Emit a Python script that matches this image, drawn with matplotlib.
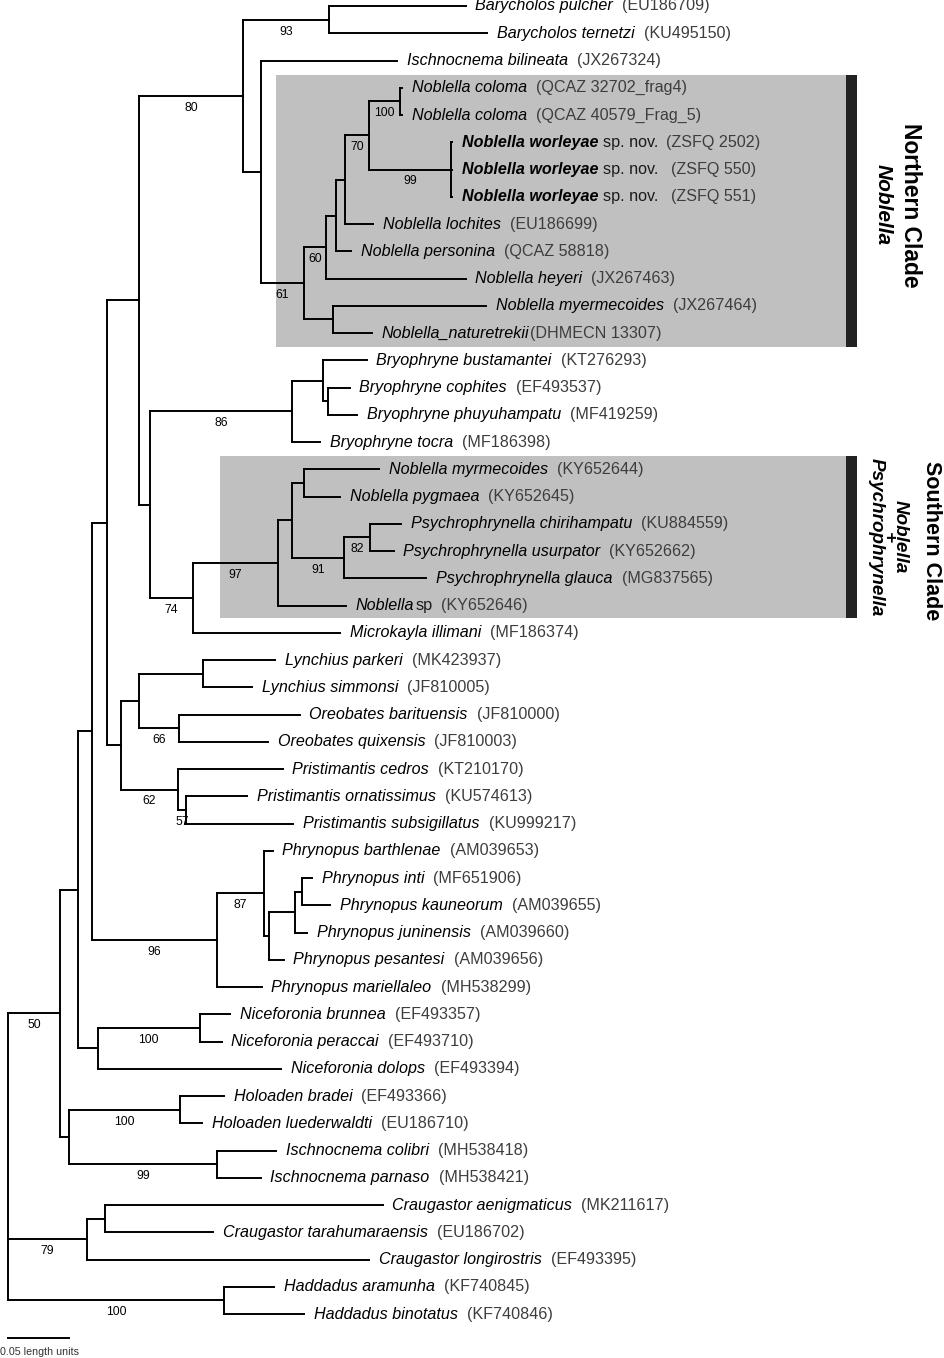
import matplotlib
matplotlib.use('Agg')
import matplotlib.pyplot as plt
from matplotlib.patches import Rectangle

plt.rcParams['font.family'] = ['Liberation Sans', 'DejaVu Sans']

# tips, top to bottom
taxa = [
    "Barycholos pulcher", "Barycholos ternetzi", "Ischnocnema bilineata",
    "Noblella coloma", "Noblella coloma",
    "Noblella worleyae", "Noblella worleyae", "Noblella worleyae",
    "Noblella lochites", "Noblella personina", "Noblella heyeri",
    "Noblella myermecoides", "Noblella_naturetrekii",
    "Bryophryne bustamantei", "Bryophryne cophites", "Bryophryne phuyuhampatu",
    "Bryophryne tocra", "Noblella myrmecoides", "Noblella pygmaea",
    "Psychrophrynella chirihampatu", "Psychrophrynella usurpator",
    "Psychrophrynella glauca", "Noblella", "Microkayla illimani",
    "Lynchius parkeri", "Lynchius simmonsi", "Oreobates barituensis",
    "Oreobates quixensis", "Pristimantis cedros", "Pristimantis ornatissimus",
    "Pristimantis subsigillatus", "Phrynopus barthlenae", "Phrynopus inti",
    "Phrynopus kauneorum", "Phrynopus juninensis", "Phrynopus pesantesi",
    "Phrynopus mariellaleo", "Niceforonia brunnea", "Niceforonia peraccai",
    "Niceforonia dolops", "Holoaden bradei", "Holoaden luederwaldti",
    "Ischnocnema colibri", "Ischnocnema parnaso", "Craugastor aenigmaticus",
    "Craugastor tarahumaraensis", "Craugastor longirostris",
    "Haddadus aramunha", "Haddadus binotatus",
]
accessions = [
    "(EU186709)", "(KU495150)", "(JX267324)", "(QCAZ 32702_frag4)",
    "(QCAZ 40579_Frag_5)", "(ZSFQ 2502)", "(ZSFQ 550)", "(ZSFQ 551)",
    "(EU186699)", "(QCAZ 58818)", "(JX267463)", "(JX267464)",
    "(DHMECN 13307)", "(KT276293)", "(EF493537)", "(MF419259)", "(MF186398)",
    "(KY652644)", "(KY652645)", "(KU884559)", "(KY652662)", "(MG837565)",
    "(KY652646)", "(MF186374)", "(MK423937)", "(JF810005)", "(JF810000)",
    "(JF810003)", "(KT210170)", "(KU574613)", "(KU999217)", "(AM039653)",
    "(MF651906)", "(AM039655)", "(AM039660)", "(AM039656)", "(MH538299)",
    "(EF493357)", "(EF493710)", "(EF493394)", "(EF493366)", "(EU186710)",
    "(MH538418)", "(MH538421)", "(MK211617)", "(EU186702)", "(EF493395)",
    "(KF740845)", "(KF740846)",
]
extra = {5: "sp. nov.", 6: "sp. nov.", 7: "sp. nov.", 22: "sp"}
bold_tips = [5, 6, 7]

# distance from root, length units
tip_depth = [
    0.375, 0.393, 0.319, 0.323, 0.323, 0.364, 0.364, 0.364, 0.299, 0.281,
    0.375, 0.392, 0.298, 0.294, 0.280, 0.286, 0.256, 0.304, 0.272, 0.322,
    0.316, 0.343, 0.277, 0.272, 0.219, 0.200, 0.239, 0.213, 0.225, 0.196,
    0.234, 0.217, 0.249, 0.264, 0.245, 0.226, 0.208, 0.182, 0.175, 0.224,
    0.177, 0.159, 0.220, 0.207, 0.307, 0.168, 0.296, 0.218, 0.243,
]

# internal nodes: children are tip indices or node ids
node_ids = ["root", "n50", "nHI", "holo", "isch", "craug", "craug2", "hadd",
            "nA", "nice", "nice2", "nB", "phry", "phryY", "phryZ", "phryZ2",
            "phryZ3", "nC", "nE", "nW", "lync", "oreo", "prist", "prist2",
            "nD", "nF", "bary", "nH", "nI", "nK", "nJ", "nL", "nM", "nN",
            "colo", "worl", "nG", "bryo", "bryoP", "bryoQ", "nO", "nR", "nS",
            "nT", "nU", "nV"]
node_children = [
    ["n50", "craug", "hadd"], ["nA", "nHI"], ["holo", "isch"], [40, 41],
    [42, 43], ["craug2", 46], [44, 45], [47, 48],
    ["nB", "nice"], ["nice2", 39], [37, 38], ["nC", "phry"], ["phryY", 36],
    [31, "phryZ"], ["phryZ2", 35], ["phryZ3", 34], [32, 33],
    ["nD", "nE"], ["nW", "prist"], ["lync", "oreo"], [24, 25], [26, 27],
    [28, "prist2"], [29, 30],
    ["nF", "nG"], ["bary", "nH"], [0, 1], [2, "nI"], ["nJ", "nK"], [11, 12],
    ["nL", 10], ["nM", 9], ["nN", 8], ["colo", "worl"], [3, 4], [5, 6, 7],
    ["bryo", "nO"], ["bryoP", 16], [13, "bryoQ"], [14, 15], ["nR", 23],
    ["nS", 22], ["nT", "nU"], [17, 18], ["nV", 21], [19, 20],
]
node_depth = [0.0, 0.0426, 0.0500, 0.141, 0.171, 0.0648, 0.0795, 0.177,
              0.0574, 0.0738, 0.157, 0.0689, 0.171, 0.210, 0.214, 0.235,
              0.241, 0.0811, 0.0926, 0.107, 0.160, 0.140, 0.139, 0.146,
              0.107, 0.193, 0.263, 0.207, 0.243, 0.266, 0.261, 0.269,
              0.276, 0.296, 0.321, 0.363, 0.116, 0.233, 0.258, 0.262,
              0.152, 0.221, 0.233, 0.243, 0.275, 0.297]
node_support = ["", "50", "", "100", "99", "79", "", "100",
                "", "", "100", "", "96", "87", "", "", "",
                "", "", "", "", "66", "62", "57",
                "", "80", "93", "", "61", "", "60", "", "", "70",
                "100", "99", "", "86", "", "", "74", "97", "",
                "", "91", "82"]

parent = {}
for nid, kids in zip(node_ids, node_children):
    for k in kids:
        parent[k] = nid


def depth(k):
    return tip_depth[k] if isinstance(k, int) else node_depth[node_ids.index(k)]


def ypos(k):
    if isinstance(k, int):
        return float(k)
    kids = node_children[node_ids.index(k)]
    return (ypos(kids[0]) + ypos(kids[-1])) / 2


fig = plt.figure(figsize=(9.45, 13.58), dpi=100)
ax = fig.add_axes([0, 0, 1, 1])
ax.set_xlim(-0.00656, 0.768)
ax.set_ylim(49.61, -0.22)
ax.axis('off')

# shaded clades
ax.add_patch(Rectangle((0.220, 3 - 0.48), 0.467, 9.98, color='#c0c0c0', lw=0, zorder=0))
ax.add_patch(Rectangle((0.174, 17 - 0.48), 0.513, 5.93, color='#c0c0c0', lw=0, zorder=0))
ax.add_patch(Rectangle((0.687, 3 - 0.48), 0.009, 9.98, color='#222222', lw=0, zorder=0))
ax.add_patch(Rectangle((0.687, 17 - 0.48), 0.009, 5.93, color='#222222', lw=0, zorder=0))

lw = 1.4
for nid, kids, d, sup in zip(node_ids, node_children, node_depth, node_support):
    y0, y1 = ypos(kids[0]), ypos(kids[-1])
    ax.plot([d, d], [y0, y1], color='black', lw=lw, solid_capstyle='projecting')
    for k in kids:
        ax.plot([d, depth(k)], [ypos(k), ypos(k)], color='black', lw=lw,
                solid_capstyle='projecting')
    if sup:
        pd = node_depth[node_ids.index(parent[nid])]
        ax.annotate(sup, xy=((pd + d) / 2, ypos(nid)), xytext=(0, -8.6),
                    textcoords='offset points', ha='center', va='center',
                    fontsize=8.8, color='black')

# tip labels
fs = 11.6
for i, name in enumerate(taxa):
    w = 'bold' if i in bold_tips else 'normal'
    t = ax.annotate(name, xy=(tip_depth[i], i), xytext=(7, 0),
                    textcoords='offset points', ha='left', va='center',
                    fontsize=fs, style='italic', weight=w, color='black')
    if i in extra:
        t = ax.annotate(extra[i], xy=(1, 0.5), xycoords=t,
                        xytext=(3.6 if i in bold_tips else 0.8, 0),
                        textcoords='offset points', ha='left', va='center',
                        fontsize=fs, color='#1a1a1a')
    gap = 6.5
    if i == 12:
        gap = 0.6
    elif i in (6, 7):
        gap = 9
    elif i == 5:
        gap = 5.5
    ax.annotate(accessions[i], xy=(1, 0.5), xycoords=t, xytext=(gap, 0),
                textcoords='offset points', ha='left', va='center',
                fontsize=fs, color='#3d3d3d')

# clade labels
rk = dict(rotation=270, rotation_mode='anchor', ha='center', va='center')
ax.text(0.740, 7.30, "Northern Clade", fontsize=16.5, weight='bold', **rk)
ax.text(0.717, 7.27, "Noblella", fontsize=15, weight='bold', style='italic', **rk)
ax.text(0.757, 19.6, "Southern Clade", fontsize=15.5, weight='bold', **rk)
ax.text(0.7215, 19.49, "Noblella\n+\nPsychrophrynella", fontsize=13.6,
        weight='bold', style='italic', linespacing=0.62, multialignment='center', **rk)

# scale bar
ax.plot([0, 0.05], [48.88, 48.88], color='black', lw=lw)
ax.text(-0.0063, 49.39, "0.05 length units", fontsize=7.7, color='#333333',
        ha='left', va='center')

fig.savefig('out.png', dpi=100)
